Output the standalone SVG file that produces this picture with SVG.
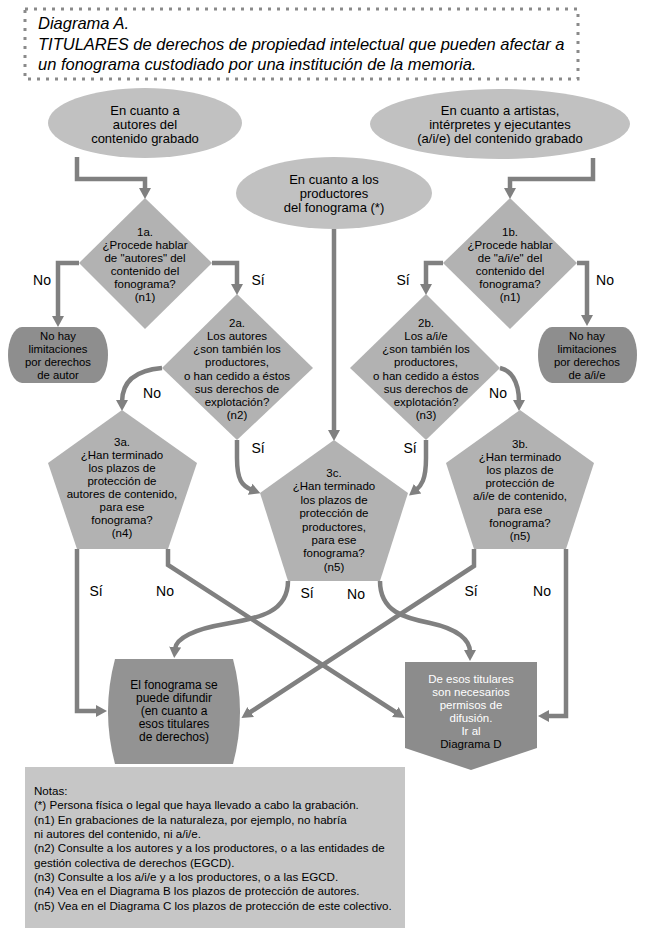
<svg xmlns="http://www.w3.org/2000/svg" width="649" height="936" viewBox="0 0 649 936">
<style>
text{font-family:"Liberation Sans",Arial,sans-serif;fill:#000;text-anchor:middle}
.t{font-size:16.5px;font-style:italic;text-anchor:start}
.e{font-size:13px}
.d{font-size:11.5px}
.b{font-size:12px}
.bx{font-size:11.3px}
.l{font-size:14px}
.n{font-size:11.6px;text-anchor:start}
.w{fill:#fff}
.ell{fill:#c1c1c1}
.dec{fill:#b2b2b2}
.dark{fill:#8e8e8e}
.c{fill:none;stroke:#808080;stroke-width:4.5;marker-end:url(#ah)}
</style>
<defs>
<marker id="ah" markerUnits="userSpaceOnUse" markerWidth="14" markerHeight="14" refX="2" refY="6" orient="auto" viewBox="0 0 14 12">
<path d="M0,0 L11,6 L0,12 Z" fill="#808080"/>
</marker>
</defs>

<g id="title">
<rect x="25" y="9" width="553" height="70" fill="#fff" stroke="#8a8a8a" stroke-width="3" stroke-dasharray="3 6"/>
<text class="t" x="38" y="29">Diagrama A.</text>
<text class="t" x="38" y="50">TITULARES de derechos de propiedad intelectual que pueden afectar a</text>
<text class="t" x="38" y="70">un fonograma custodiado por una institución de la memoria.</text>
</g>

<g id="connectors">
<path class="c" d="M77,157 V179 H145 V190"/>
<path class="c" d="M593,158 V179 H510 V190"/>
<path class="c" d="M334,229 V432"/>
<path class="c" d="M79,263 H58 V318"/>
<path class="c" d="M212,263 H237 V286"/>
<path class="c" d="M443,263 H426 V286"/>
<path class="c" d="M577,263 H587 V317"/>
<path class="c" d="M162,368 C138,370 122,380 122,402"/>
<path class="c" d="M500,368 C510,370 519,380 519,402"/>
<path class="c" d="M237,440 V458 C237,480 242,486 252,490"/>
<path class="c" d="M426,440 V458 C426,480 421,486 416,490"/>
<path class="c" d="M77,549 V711 H98"/>
<path class="c" d="M566,549 V716 H547"/>
<path class="c" d="M168,549 V565 L397,713"/>
<path class="c" d="M474,549 V566 L249,713"/>
<path class="c" d="M288,581 C288,612 260,618 225,624 C195,629 176,638 175,649"/>
<path class="c" d="M380,581 C380,612 405,618 430,623 C458,629 470,640 470,652"/>
</g>

<g id="labels">
<text class="l" x="42" y="285">No</text>
<text class="l" x="258" y="285">Sí</text>
<text class="l" x="403" y="285">Sí</text>
<text class="l" x="605" y="285">No</text>
<text class="l" x="152" y="398">No</text>
<text class="l" x="258" y="453">Sí</text>
<text class="l" x="498" y="398">No</text>
<text class="l" x="410" y="453">Sí</text>
<text class="l" x="96" y="596">Sí</text>
<text class="l" x="165" y="596">No</text>
<text class="l" x="307" y="598">Sí</text>
<text class="l" x="356" y="599">No</text>
<text class="l" x="471" y="596">Sí</text>
<text class="l" x="542" y="596">No</text>
</g>

<g id="e-autores">
<ellipse class="ell" cx="145" cy="123" rx="97" ry="35"/>
<text class="e" x="145" y="115">En cuanto a</text>
<text class="e" x="145" y="129">autores del</text>
<text class="e" x="145" y="143">contenido grabado</text>
</g>

<g id="e-productores">
<ellipse class="ell" cx="334" cy="193" rx="98" ry="36"/>
<text class="e" x="334" y="184">En cuanto a los</text>
<text class="e" x="334" y="198">productores</text>
<text class="e" x="334" y="212">del fonograma (*)</text>
</g>

<g id="e-aie">
<ellipse class="ell" cx="500" cy="124" rx="130" ry="35"/>
<text class="e" x="500" y="115">En cuanto a artistas,</text>
<text class="e" x="500" y="129">intérpretes y ejecutantes</text>
<text class="e" x="500" y="143">(a/i/e) del contenido grabado</text>
</g>

<g id="d1a">
<polygon class="dec" points="145,198 212,263 145,329 79,263"/>
<text class="d" x="145" y="236">1a.</text>
<text class="d" x="145" y="249">¿Procede hablar</text>
<text class="d" x="145" y="262">de "autores" del</text>
<text class="d" x="145" y="275">contenido del</text>
<text class="d" x="145" y="288">fonograma?</text>
<text class="d" x="145" y="301">(n1)</text>
</g>

<g id="d1b">
<polygon class="dec" points="510,198 577,263 510,329 443,263"/>
<text class="d" x="510" y="236">1b.</text>
<text class="d" x="510" y="249">¿Procede hablar</text>
<text class="d" x="510" y="262">de "a/i/e" del</text>
<text class="d" x="510" y="275">contenido del</text>
<text class="d" x="510" y="288">fonograma?</text>
<text class="d" x="510" y="301">(n1)</text>
</g>

<g id="b-autor">
<path class="dark" d="M22,327 H94 A14,28 0 0 1 94,383 H22 A14,28 0 0 1 22,327 Z"/>
<text class="bx" x="58" y="340">No hay</text>
<text class="bx" x="58" y="353">limitaciones</text>
<text class="bx" x="58" y="366">por derechos</text>
<text class="bx" x="58" y="379">de autor</text>
</g>

<g id="b-aie">
<path class="dark" d="M552,327 H623 A14,28 0 0 1 623,383 H552 A14,28 0 0 1 552,327 Z"/>
<text class="bx" x="587" y="340">No hay</text>
<text class="bx" x="587" y="353">limitaciones</text>
<text class="bx" x="587" y="366">por derechos</text>
<text class="bx" x="587" y="379">de a/i/e</text>
</g>

<g id="d2a">
<polygon class="dec" points="237,294 313,368 237,440 162,368"/>
<text class="d" x="237" y="327">2a.</text>
<text class="d" x="237" y="340">Los autores</text>
<text class="d" x="237" y="353">¿son también los</text>
<text class="d" x="237" y="366">productores,</text>
<text class="d" x="237" y="380">o han cedido a éstos</text>
<text class="d" x="237" y="393">sus derechos de</text>
<text class="d" x="237" y="406">explotación?</text>
<text class="d" x="237" y="419">(n2)</text>
</g>

<g id="d2b">
<polygon class="dec" points="426,294 500,368 426,440 350,368"/>
<text class="d" x="426" y="327">2b.</text>
<text class="d" x="426" y="340">Los a/i/e</text>
<text class="d" x="426" y="353">¿son también los</text>
<text class="d" x="426" y="366">productores,</text>
<text class="d" x="426" y="380">o han cedido a éstos</text>
<text class="d" x="426" y="393">sus derechos de</text>
<text class="d" x="426" y="406">explotación?</text>
<text class="d" x="426" y="419">(n3)</text>
</g>

<g id="p3a">
<polygon class="dec" points="122,410 197,463 168,549 77,549 48,463"/>
<text class="d" x="122" y="446">3a.</text>
<text class="d" x="122" y="459">¿Han terminado</text>
<text class="d" x="122" y="472">los plazos de</text>
<text class="d" x="122" y="485">protección de</text>
<text class="d" x="122" y="498">autores de contenido,</text>
<text class="d" x="122" y="511">para ese</text>
<text class="d" x="122" y="524">fonograma?</text>
<text class="d" x="122" y="537">(n4)</text>
</g>

<g id="p3c">
<polygon class="dec" points="334,440 408,493 380,581 288,581 260,493"/>
<text class="d" x="334" y="477">3c.</text>
<text class="d" x="334" y="490">¿Han terminado</text>
<text class="d" x="334" y="504">los plazos de</text>
<text class="d" x="334" y="517">protección de</text>
<text class="d" x="334" y="531">productores,</text>
<text class="d" x="334" y="544">para ese</text>
<text class="d" x="334" y="557">fonograma?</text>
<text class="d" x="334" y="571">(n5)</text>
</g>

<g id="p3b">
<polygon class="dec" points="520,410 594,463 566,549 474,549 446,463"/>
<text class="d" x="520" y="448">3b.</text>
<text class="d" x="520" y="461">¿Han terminado</text>
<text class="d" x="520" y="474">los plazos de</text>
<text class="d" x="520" y="487">protección de</text>
<text class="d" x="520" y="500">a/i/e de contenido,</text>
<text class="d" x="520" y="514">para ese</text>
<text class="d" x="520" y="527">fonograma?</text>
<text class="d" x="520" y="540">(n5)</text>
</g>

<g id="r-difundir">
<path fill="#939393" d="M115,659 H233 Q247,711.5 233,764 H115 Q101,711.5 115,659 Z"/>
<text class="b" x="174" y="689">El fonograma se</text>
<text class="b" x="174" y="702">puede difundir</text>
<text class="b" x="174" y="715">(en cuanto a</text>
<text class="b" x="174" y="728">esos titulares</text>
<text class="b" x="174" y="741">de derechos)</text>
</g>

<g id="r-permisos">
<path fill="#8c8c8c" d="M405,662 H537 V748 L471,770 L405,748 Z"/>
<text class="d w" x="471" y="683">De esos titulares</text>
<text class="d w" x="471" y="696">son necesarios</text>
<text class="d w" x="471" y="709">permisos de</text>
<text class="d w" x="471" y="722">difusión.</text>
<text class="d w" x="471" y="735">Ir al</text>
<text class="d" x="471" y="748">Diagrama D</text>
</g>

<g id="notas">
<rect x="25" y="767" width="380" height="161" fill="#c6c6c6"/>
<text class="n" x="34" y="795">Notas:</text>
<text class="n" x="34" y="809">(*) Persona física o legal que haya llevado a cabo la grabación.</text>
<text class="n" x="34" y="823.5">(n1) En grabaciones de la naturaleza, por ejemplo, no habría</text>
<text class="n" x="34" y="838">ni autores del contenido, ni a/i/e.</text>
<text class="n" x="34" y="852">(n2) Consulte a los autores y a los productores, o a las entidades de</text>
<text class="n" x="34" y="866.5">gestión colectiva de derechos (EGCD).</text>
<text class="n" x="34" y="881">(n3) Consulte a los a/i/e y a los productores, o a las EGCD.</text>
<text class="n" x="34" y="895">(n4) Vea en el Diagrama B los plazos de protección de autores.</text>
<text class="n" x="34" y="909.5">(n5) Vea en el Diagrama C los plazos de protección de este colectivo.</text>
</g>
</svg>
